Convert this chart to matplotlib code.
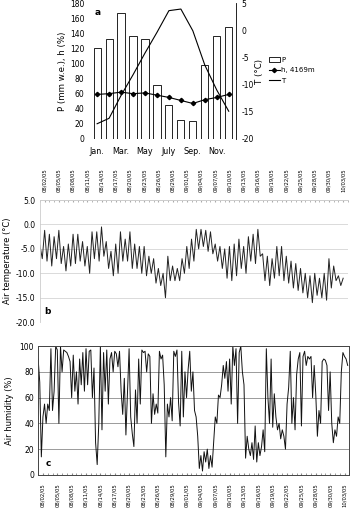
import numpy as np
import matplotlib
matplotlib.use("Agg")
import matplotlib.pyplot as plt
from matplotlib.patches import Patch
from matplotlib.lines import Line2D

plt.rcParams['font.family'] = 'DejaVu Sans'
plt.rcParams['axes.unicode_minus'] = False

# panel a: monthly climate
months = ['Jan.', 'Feb.', 'Mar.', 'Apr.', 'May', 'June', 'July', 'Aug.', 'Sep.', 'Oct.', 'Nov.', 'Dec.']
precip = [120, 133, 167, 136, 132, 72, 45, 25, 24, 98, 137, 148]
humid_month = [59, 60, 62, 60, 61, 58, 55, 51, 47, 52, 55, 59]
temp_month = [-17.2, -16.2, -12.0, -8.2, -4.2, -0.4, 3.6, 3.9, -0.1, -6.4, -11.0, -14.9]

# panel b/c: daily series Aug-Oct 2005 (2 temp values / day, 3 humidity values / day)
date_labels = ['08/02/05', '08/05/05', '08/08/05', '08/11/05', '08/14/05', '08/17/05',
               '08/20/05', '08/23/05', '08/26/05', '08/29/05', '09/01/05', '09/04/05',
               '09/07/05', '09/10/05', '09/13/05', '09/16/05', '09/19/05', '09/22/05',
               '09/25/05', '09/28/05', '09/30/05', '10/03/05']

air_temp = [
    -4.2, -7.0, -1.2, -7.5, -2.0, -8.5, -2.5, -7.0, -1.2, -8.0,
    -4.5, -9.5, -4.0, -8.5, -2.0, -8.0, -2.0, -7.5, -3.5, -8.5,
    -4.5, -10.0, -1.5, -7.0, -1.5, -7.5, -0.5, -6.5, -3.5, -9.0,
    -5.5, -10.5, -4.0, -10.0, -1.5, -7.5, -3.0, -7.5, -1.5, -9.0,
    -4.0, -9.0, -4.5, -10.0, -4.5, -10.5, -6.5, -10.0, -7.0, -12.0,
    -9.0, -12.5, -10.0, -15.0, -6.5, -11.5, -8.5, -11.5, -9.0, -11.5,
    -7.0, -10.0, -4.5, -9.0, -3.0, -7.5, -1.0, -5.0, -1.0, -4.5,
    -1.2, -5.5, -1.5, -6.0, -4.0, -7.5, -4.5, -9.0, -5.0, -11.0,
    -4.5, -11.5, -4.0, -10.5, -3.0, -9.0, -4.5, -10.0, -2.5, -7.5,
    -2.0, -8.0, -1.0, -6.5, -6.0, -11.5, -6.5, -12.5, -7.0, -11.0,
    -4.5, -10.5, -4.5, -11.5, -6.5, -12.0, -7.5, -13.0, -8.0, -13.5,
    -9.0, -14.0, -10.0, -15.0, -10.5, -16.0, -10.0, -14.5, -11.0, -15.0,
    -10.0, -15.5, -7.0, -13.0, -8.5, -11.5, -10.5, -12.5, -11.0,
]

air_humidity = [
    90, 72, 14, 45, 55, 40, 55, 50, 98, 50, 65, 100, 97, 40, 100,
    80, 97, 96, 95, 92, 88, 60, 93, 65, 80, 55, 90, 70, 95, 65,
    98, 70, 96, 97, 60, 83, 25, 8, 40, 100, 35, 95, 65, 97, 55,
    90, 95, 80, 96, 94, 84, 96, 65, 47, 75, 31, 65, 98, 45, 32,
    22, 66, 40, 90, 55, 97, 95, 96, 80, 94, 92, 40, 63, 47, 55,
    48, 96, 90, 93, 70, 14, 55, 45, 60, 42, 96, 92, 97, 56, 38,
    96, 45, 80, 60, 82, 96, 65, 80, 50, 45, 30, 5, 15, 3, 18,
    10, 20, 5, 15, 6, 25, 45, 40, 62, 60, 70, 85, 75, 88, 65,
    90, 55, 100, 85, 98, 40, 95, 100, 80, 70, 13, 30, 20, 15, 25,
    12, 38, 10, 25, 15, 22, 35, 18, 98, 60, 40, 90, 37, 63, 45,
    35, 40, 28, 35, 30, 20, 55, 68, 96, 40, 60, 35, 78, 90, 95,
    38, 92, 96, 85, 92, 90, 92, 60, 85, 62, 30, 50, 40, 88, 90,
    89, 85, 50, 80, 40, 25, 35, 30, 45, 40, 80, 95, 92, 90, 85,
]

fig = plt.figure(figsize=(3.5, 5.09), dpi=100)

# ---- panel a
ax = fig.add_axes([0.257, 0.727, 0.417, 0.267])
x = np.arange(len(months))
ax.bar(x, precip, width=0.6, color='white', edgecolor='black', linewidth=0.6, zorder=2)
ax.plot(x, humid_month, color='black', lw=0.8, marker='D', ms=2.2, zorder=3)
ax.set_ylim(0, 180)
ax.set_yticks(range(0, 181, 20))
ax.set_xlim(-0.6, 11.6)
ax.set_xticks(x)
ax.set_xticklabels([m if i % 2 == 0 else '' for i, m in enumerate(months)])
for s in ['top', 'left', 'bottom', 'right']:
    ax.spines[s].set_visible(False)
ax.tick_params(axis='y', labelsize=5.5, length=0, pad=4)
ax.tick_params(axis='x', labelsize=5.8, length=0, pad=6)
ax.set_ylabel('P (mm w.e.), h (%)', fontsize=6.2, labelpad=2)
ax.text(0.03, 0.96, 'a', transform=ax.transAxes, fontsize=6.5, fontweight='bold', va='top')

ax2 = ax.twinx()
ax2.plot(x, temp_month, color='black', lw=0.8, zorder=3)
ax2.set_ylim(-20, 5)
ax2.set_yticks(range(-20, 6, 5))
for s in ['top', 'left', 'bottom']:
    ax2.spines[s].set_visible(False)
ax2.spines['right'].set_linewidth(0.6)
ax2.tick_params(axis='y', labelsize=5.5, length=0, pad=4)
ax2.set_ylabel('T (°C)', fontsize=6.2, labelpad=1)

handles = [Patch(facecolor='white', edgecolor='black', linewidth=0.6),
           Line2D([], [], color='black', lw=0.8, marker='D', ms=2.2),
           Line2D([], [], color='black', lw=0.8)]
fig.legend(handles, ['P', 'h, 4169m', 'T'], loc='upper left', bbox_to_anchor=(0.76, 0.893),
           frameon=False, fontsize=5, handlelength=1.6, handletextpad=0.2,
           labelspacing=0.6, borderaxespad=0)

# ---- panel b
axb = fig.add_axes([0.114, 0.367, 0.88, 0.240])
tb = np.arange(len(air_temp)) * 0.5
axb.plot(tb, air_temp, color='#222222', lw=0.7)
axb.set_xlim(0, 65)
axb.set_ylim(-20, 5)
axb.set_yticks(range(-20, 6, 5))
axb.set_yticklabels(['%.1f' % v for v in range(-20, 6, 5)])
axb.yaxis.grid(True, color='#d4d4d4', lw=0.6)
axb.set_axisbelow(True)
axb.xaxis.tick_top()
axb.set_xticks(np.arange(len(date_labels)) * 3 + 1)
axb.set_xticklabels(date_labels, rotation=90)
axb.set_xticks(np.arange(0, 66), minor=True)
axb.tick_params(axis='x', which='both', direction='in', length=1.5, color='#aaaaaa', labelsize=3.8, pad=6)
axb.tick_params(axis='y', length=0, labelsize=5.5, pad=3)
for s in axb.spines.values():
    s.set_color('#cccccc')
    s.set_linewidth(0.6)
axb.spines['right'].set_visible(False)
axb.spines['bottom'].set_visible(False)
axb.set_ylabel('Air temperature (°C)', fontsize=6, labelpad=3)
axb.text(0.015, 0.07, 'b', transform=axb.transAxes, fontsize=6.5, fontweight='bold')

# ---- panel c
axc = fig.add_axes([0.109, 0.067, 0.889, 0.253])
tc = np.arange(len(air_humidity)) / 3.0
axc.plot(tc, air_humidity, color='#111111', lw=0.7)
axc.set_xlim(0, 65)
axc.set_ylim(0, 100)
axc.set_yticks(range(0, 101, 20))
axc.yaxis.grid(True, color='#8a8a8a', lw=0.6)
axc.set_axisbelow(True)
axc.set_xticks(np.arange(len(date_labels)) * 3 + 1)
axc.set_xticklabels(date_labels, rotation=90)
axc.set_xticks(np.arange(0, 66), minor=True)
axc.tick_params(axis='x', which='both', direction='in', length=1.5, color='#888888', labelsize=3.8, pad=6)
axc.tick_params(axis='y', length=0, labelsize=5.5, pad=3)
for s in axc.spines.values():
    s.set_color('#444444')
    s.set_linewidth(0.7)
axc.set_ylabel('Air humidity (%)', fontsize=6, labelpad=4)
axc.text(0.025, 0.07, 'c', transform=axc.transAxes, fontsize=6.5, fontweight='bold')

fig.savefig('out.png', dpi=100)
